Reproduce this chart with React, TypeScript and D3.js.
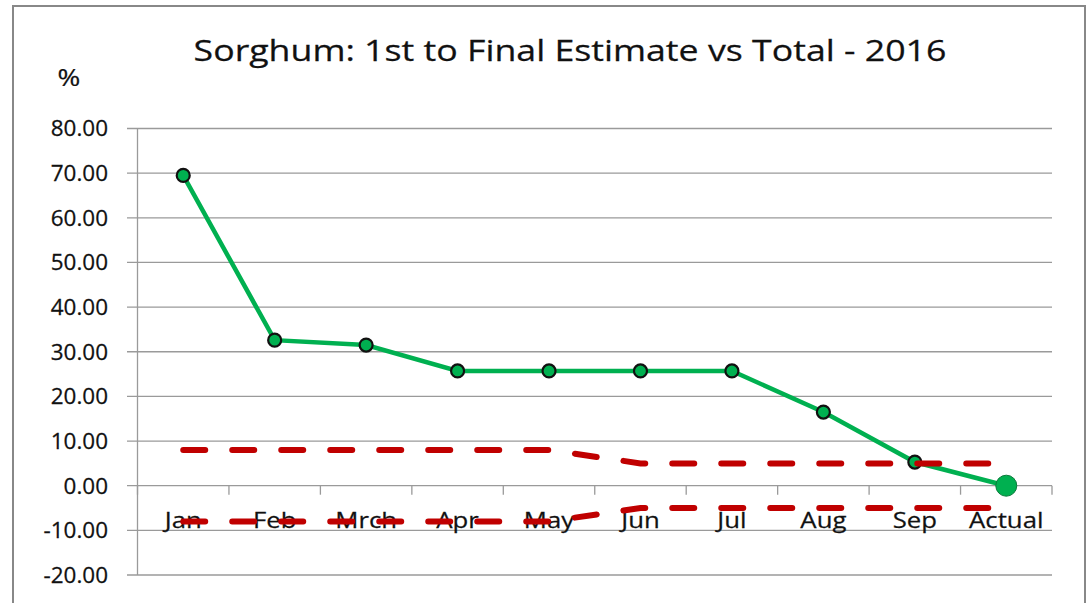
import React from "react";
import * as d3 from "d3";

const categories = ["Jan", "Feb", "Mrch", "Apr", "May", "Jun", "Jul", "Aug", "Sep", "Actual"];
const estimateValues = [69.5, 32.6, 31.5, 25.7, 25.7, 25.7, 25.7, 16.5, 5.3, 0];
const upperBand = [8, 8, 8, 8, 8, 5, 5, 5, 5, 5];
const lowerBand = [-8, -8, -8, -8, -8, -5, -5, -5, -5, -5];
const yTicks = [80, 70, 60, 50, 40, 30, 20, 10, 0, -10, -20];

const W = 1090;
const H = 603;
const FONT = "'Open Sans', 'Liberation Sans', sans-serif";

function SText(props: {
  x: number;
  y: number;
  sx: number;
  size: number;
  anchor: "start" | "middle" | "end";
  children: React.ReactNode;
  dy?: string;
}) {
  return (
    <text
      transform={`translate(${props.x},${props.y}) scale(${props.sx},1)`}
      x={0}
      y={0}
      dy={props.dy}
      textAnchor={props.anchor}
      fontFamily={FONT}
      fontSize={props.size}
      fill="#111"
      stroke="#111"
      strokeWidth={0.25}
    >
      {props.children}
    </text>
  );
}

export default function App() {
  const left = 137.5;
  const right = 1052;
  const x = d3.scaleBand<string>().domain(categories).range([left, right]);
  const y = d3.scaleLinear().domain([-20, 80]).range([575, 128.5]);
  const cx = (c: string) => (x(c) as number) + x.bandwidth() / 2;

  const line = d3
    .line<number>()
    .x((_, i) => cx(categories[i]))
    .y((d) => y(d));

  const boundaries = d3.range(categories.length + 1).map((i) => left + i * x.bandwidth());

  return (
    <svg width={W} height={H} style={{ position: "absolute", left: 0, top: 0, background: "#fff" }}>
      <rect x={13} y={6} width={1072} height={620} fill="#fff" stroke="#888" strokeWidth={2} />
      <SText x={570} y={61} sx={1.19} size={30} anchor="middle">
        Sorghum: 1st to Final Estimate vs Total - 2016
      </SText>
      <SText x={69} y={86} sx={1.15} size={24} anchor="middle">
        %
      </SText>
      {yTicks.map((t) => (
        <g key={t}>
          <line x1={127} x2={right} y1={y(t)} y2={y(t)} stroke="#9a9a9a" strokeWidth={1.3} />
          <SText x={108} y={y(t)} dy="0.36em" sx={1.02} size={22} anchor="end">
            {t.toFixed(2)}
          </SText>
        </g>
      ))}
      <line x1={left} x2={left} y1={y(80)} y2={y(-20)} stroke="#9a9a9a" strokeWidth={1.3} />
      {boundaries.map((b, i) => (
        <line key={i} x1={b} x2={b} y1={y(0)} y2={y(0) + 9} stroke="#9a9a9a" strokeWidth={1.3} />
      ))}
      {categories.map((c) => (
        <SText key={c} x={cx(c)} y={528} sx={1.17} size={22} anchor="middle">
          {c}
        </SText>
      ))}
      <path d={line(estimateValues) || ""} fill="none" stroke="#00b050" strokeWidth={4.5} />
      {estimateValues.map((v, i) =>
        i === estimateValues.length - 1 ? (
          <circle key={i} cx={cx(categories[i])} cy={y(v)} r={10.5} fill="#00b050" stroke="#0a7a3a" strokeWidth={1} />
        ) : (
          <circle key={i} cx={cx(categories[i])} cy={y(v)} r={6.5} fill="#00b050" stroke="#111" strokeWidth={2.2} />
        )
      )}
      <path
        d={line(upperBand) || ""}
        fill="none"
        stroke="#c00000"
        strokeWidth={6}
        strokeDasharray="22 27"
        strokeLinecap="round"
      />
      <path
        d={line(lowerBand) || ""}
        fill="none"
        stroke="#c00000"
        strokeWidth={6}
        strokeDasharray="22 27"
        strokeLinecap="round"
      />
    </svg>
  );
}
